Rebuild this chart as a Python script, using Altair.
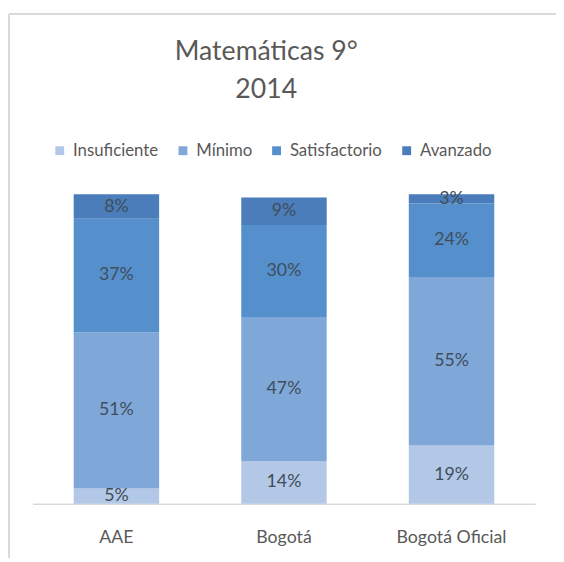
import altair as alt
import pandas as pd

categories = ["AAE", "Bogotá", "Bogotá Oficial"]
levels = ["Insuficiente", "Mínimo", "Satisfactorio", "Avanzado"]
insuficiente = [5, 14, 19]
minimo = [51, 47, 55]
satisfactorio = [37, 30, 24]
avanzado = [8, 9, 3]
colors = ["#b3c8e6", "#7fa8d9", "#5590cd", "#4a7dba"]

series = [insuficiente, minimo, satisfactorio, avanzado]
rows = []
for i, c in enumerate(categories):
    for k, lvl in enumerate(levels):
        rows.append({"cat": c, "nivel": lvl, "ord": k, "v": series[k][i]})
df = pd.DataFrame(rows)

base = alt.Chart(df).transform_stack(
    stack="v", groupby=["cat"],
    sort=[alt.SortField(field="ord", order="ascending")],
    as_=["y0", "y1"],
).transform_calculate(
    mid="(datum.y0 + datum.y1) / 2",
    lab="datum.v + '%'",
)

x = alt.X(
    "cat:N", sort=categories,
    scale=alt.Scale(paddingInner=0.49, paddingOuter=0.245),
    axis=alt.Axis(title=None, labelAngle=0, ticks=False, labelFontSize=18,
                  labelColor="#595959", labelPadding=25, domainColor="#d9d9d9",
                  domainWidth=1.5, labelFont="Lato"),
)
yscale = alt.Scale(domain=[0, 101], nice=False, zero=True)

bars = base.mark_bar().encode(
    x=x,
    y=alt.Y("y0:Q", scale=yscale, axis=None),
    y2="y1:Q",
    color=alt.Color(
        "nivel:N",
        scale=alt.Scale(domain=levels, range=colors),
        legend=alt.Legend(title=None, orient="none", legendX=19, legendY=-53,
                          direction="horizontal", symbolType="square",
                          symbolSize=81, labelFontSize=17, labelColor="#595959",
                          columnPadding=16, labelOffset=5, symbolStrokeWidth=0,
                          labelFont="Lato"),
    ),
)

labels = base.mark_text(fontSize=18, color="#404d5b", font="Lato").encode(
    x=x,
    y=alt.Y("mid:Q", scale=yscale, axis=None),
    text="lab:N",
)

frame_df = pd.DataFrame({"a": [0]})
frame_top = alt.Chart(frame_df).mark_rule(color="#d9d9d9", strokeWidth=2).encode(
    x=alt.value(-24), x2=alt.value(531), y=alt.value(-183))
frame_left = alt.Chart(frame_df).mark_rule(color="#d9d9d9", strokeWidth=2).encode(
    x=alt.value(-24), y=alt.value(-183), y2=alt.value(369))

chart = alt.layer(frame_top, frame_left, bars, labels).properties(
    width=510, height=314,
    title=alt.TitleParams(["Matemáticas 9°", "2014"], fontSize=27, font="Lato",
                          fontWeight="normal", color="#595959", anchor="middle",
                          dx=-18, offset=0, dy=92, lineHeight=38),
    autosize=alt.AutoSizeParams(type="none"),
    padding={"left": 25, "top": 185, "right": 21, "bottom": 55},
).configure(font="Lato", view=alt.ViewConfig(stroke=None))

chart.save("out.html", embed_options={"renderer": "svg", "actions": False})
